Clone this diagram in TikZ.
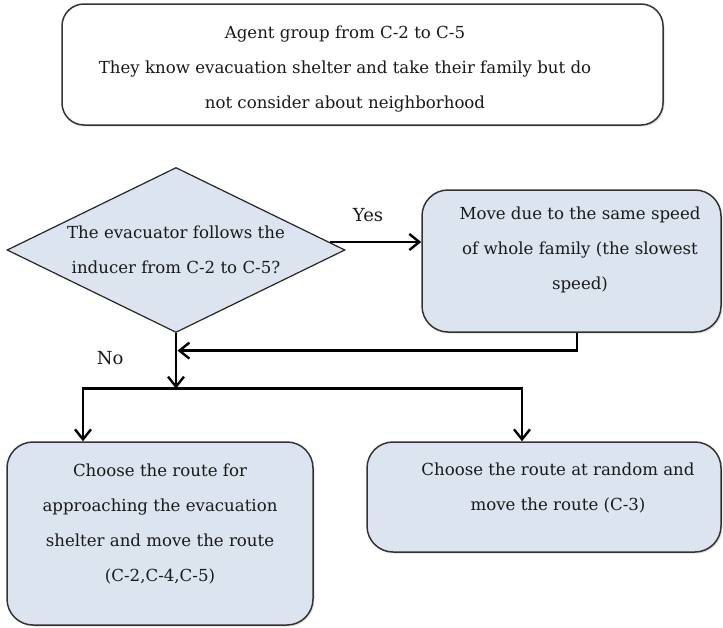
\documentclass[tikz,border=0pt]{standalone}
\usepackage{fontspec}
\setmainfont{DejaVu Serif}
\usetikzlibrary{arrows.meta,shapes.geometric,shadows}

\definecolor{boxfill}{RGB}{220,228,239}
\definecolor{ink}{RGB}{25,25,25}

\tikzset{
  txt/.style={align=center,text=ink,font=\fontsize{16.6}{35}\selectfont},
  lbl/.style={text=ink,font=\fontsize{18}{20}\selectfont},
  infobox/.style={draw=black!80,line width=1.5pt,rounded corners=22pt,fill=white,
    drop shadow={opacity=0.25,shadow xshift=1.5pt,shadow yshift=-1.5pt}},
  actbox/.style={infobox,fill=boxfill,rounded corners=26pt},
  decbox/.style={diamond,draw=black!85,line width=1.2pt,fill=boxfill,inner sep=0pt,aspect=2},
  flow/.style={line width=2.6pt,draw=black,
    -{Straight Barb[length=10pt,width=16pt,line width=2.4pt]}}
}

\begin{document}
\begin{tikzpicture}[x=1pt,y=-1pt]
\useasboundingbox (0,0) rectangle (723,627);

% group description
\node[infobox,minimum width=601pt,minimum height=121pt] (group) at (362.5,64.5) {};
\node[txt] at (345,69) {Agent group from C-2 to C-5\\
  They know evacuation shelter and take their family but do\\
  not consider about neighborhood};

% decision
\node[decbox,txt,minimum width=338pt,minimum height=165pt] (dec) at (176,250)
  {The evacuator follows the\\inducer from C-2 to C-5?};

% actions
\node[actbox,minimum width=299pt,minimum height=142pt] (move) at (571.5,261) {};
\node[txt] at (580,250) {Move due to the same speed\\
  of whole family (the slowest\\speed)};

\node[actbox,minimum width=306pt,minimum height=183pt] (route) at (160,533.5) {};
\node[txt] at (160,524) {Choose the route for\\approaching the evacuation\\
  shelter and move the route\\(C-2,C-4,C-5)};

\node[actbox,minimum width=354pt,minimum height=110pt] (rand) at (544,497) {};
\node[txt] at (558,488) {Choose the route at random and\\move the route (C-3)};

\path (dec.south) ++(1.5,17.5) coordinate (merge);
\path (dec.south) ++(0,55.5) coordinate (split);

% connectors
\draw[flow] ([xshift=-16pt,yshift=8pt]dec.east) -- node[lbl,pos=0.42,above=16pt]{Yes}
  ([yshift=19pt]move.west);
\draw[flow] ([xshift=5.5pt]move.south) |- (merge);
\draw[flow] (dec.south) -- node[lbl,pos=0.45,left=48pt]{No} (split);
\draw[flow] (split) -| ([xshift=-77pt]route.north);
\draw[flow] (split) -| ([xshift=-22pt]rand.north);
\end{tikzpicture}
\end{document}
